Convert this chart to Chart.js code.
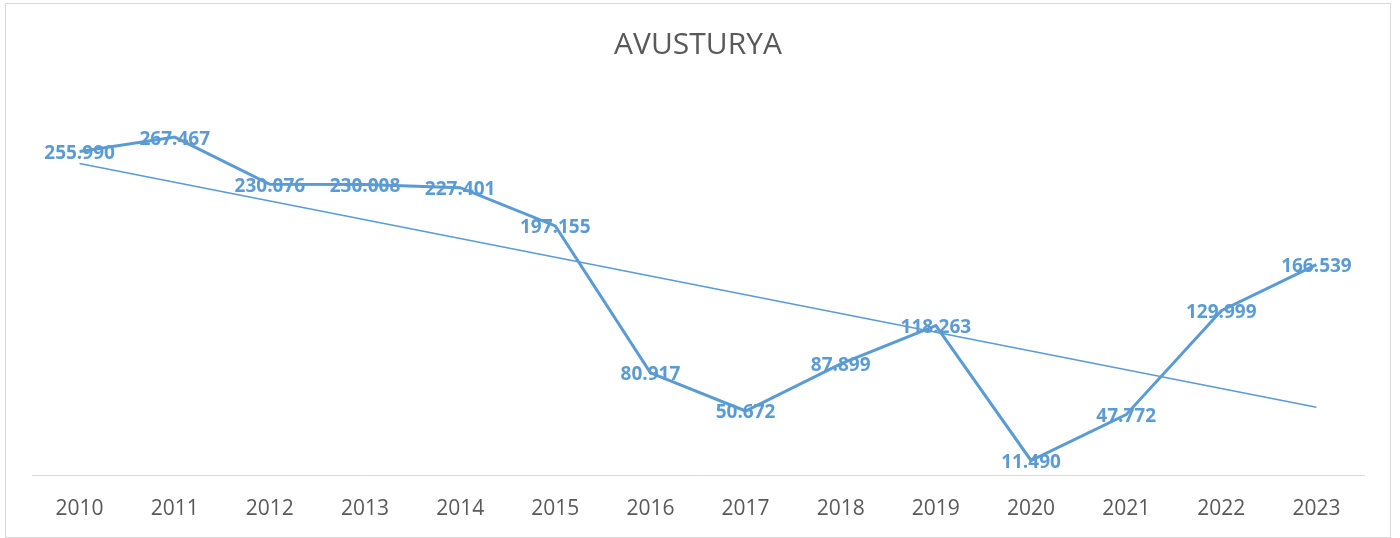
<!DOCTYPE html>
<html>
<head>
<meta charset="utf-8">
<title>AVUSTURYA</title>
<script src="https://cdn.jsdelivr.net/npm/chart.js@4.4.0/dist/chart.umd.min.js"></script>
<style>
	html, body { margin: 0; padding: 0; background: #ffffff; }
	#wrap { position: relative; width: 1400px; height: 538px; }
	#frame {
		position: absolute; left: 5px; top: 3px; width: 1384px; height: 533px;
		border: 1px solid #d9d9d9; pointer-events: none;
	}
</style>
</head>
<body>
<div id="wrap">
	<canvas id="lineChart" width="1400" height="538"></canvas>
	<div id="frame"></div>
</div>
<script>
// Chart data
const years = ["2010", "2011", "2012", "2013", "2014", "2015", "2016", "2017", "2018", "2019", "2020", "2021", "2022", "2023"];
const values = [255.990, 267.467, 230.076, 230.008, 227.401, 197.155, 80.917, 50.672, 87.899, 118.263, 11.490, 47.772, 129.999, 166.539];
const valueLabels = ["255.990", "267.467", "230.076", "230.008", "227.401", "197.155", "80.917", "50.672", "87.899", "118.263", "11.490", "47.772", "129.999", "166.539"];

const lineColor = "#5B9BD5";
const textColor = "#595959";

// Linear trendline (least squares), like Excel's trendline option
function linearTrend(data) {
	const n = data.length;
	let sx = 0, sy = 0, sxy = 0, sxx = 0;
	data.forEach((y, x) => {
		sx += x; sy += y; sxy += x * y; sxx += x * x;
	});
	const slope = (n * sxy - sx * sy) / (n * sxx - sx * sx);
	const intercept = (sy - slope * sx) / n;
	return data.map((_, x) => intercept + slope * x);
}

// Draw value labels centred on each point
const valueLabelPlugin = {
	id: "valueLabels",
	afterDatasetsDraw(chart) {
		const ctx = chart.ctx;
		const meta = chart.getDatasetMeta(0);
		ctx.save();
		ctx.font = "bold 19px 'Open Sans', sans-serif";
		ctx.fillStyle = lineColor;
		ctx.textAlign = "center";
		ctx.textBaseline = "middle";
		meta.data.forEach((pt, i) => {
			ctx.fillText(valueLabels[i], pt.x, pt.y + 2);
		});
		ctx.restore();
	},
};

new Chart(document.getElementById("lineChart"), {
	type: "line",
	data: {
		labels: years,
		datasets: [
			{
				label: "AVUSTURYA",
				data: values,
				borderColor: lineColor,
				borderWidth: 3,
				pointRadius: 0,
				tension: 0,
				fill: false,
			},
			{
				label: "Trend",
				data: linearTrend(values),
				borderColor: lineColor,
				borderWidth: 1.5,
				pointRadius: 0,
				tension: 0,
				fill: false,
			},
		],
	},
	options: {
		responsive: false,
		animation: false,
		layout: {
			padding: { left: 32, right: 36, top: 0, bottom: 0 },
		},
		plugins: {
			legend: { display: false },
			tooltip: { enabled: false },
			title: {
				display: true,
				text: "AVUSTURYA",
				color: textColor,
				font: { size: 30, family: "'Open Sans', sans-serif", weight: "normal" },
				padding: { top: 27, bottom: 33 },
			},
		},
		scales: {
			x: {
				offset: true,
				grid: { display: false, drawTicks: false },
				border: { display: true, color: "#d9d9d9", width: 1 },
				ticks: {
					color: textColor,
					padding: 21,
					font: { size: 21, family: "'Open Sans', sans-serif" },
				},
				afterFit(scale) {
					scale.height = 63;
				},
			},
			y: {
				display: false,
				min: 0,
				max: 300,
			},
		},
	},
	plugins: [valueLabelPlugin],
});
</script>
</body>
</html>
